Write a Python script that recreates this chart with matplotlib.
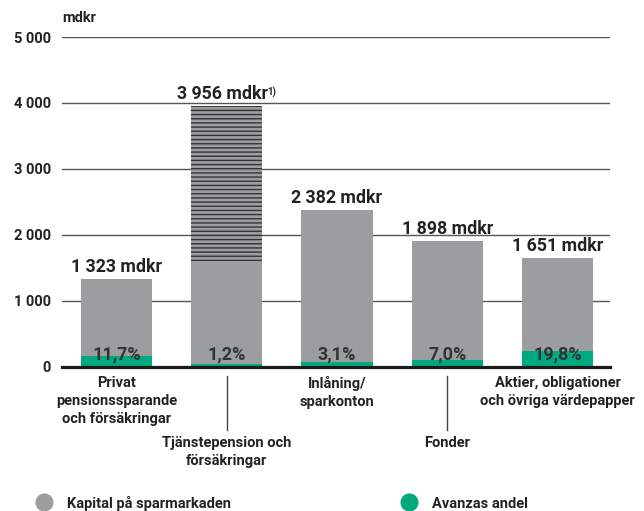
import matplotlib
matplotlib.use("Agg")
import matplotlib.pyplot as plt
from matplotlib.lines import Line2D

plt.rcParams['font.family'] = ['Roboto', 'DejaVu Sans']
plt.rcParams['font.weight'] = 'bold'
plt.rcParams['hatch.linewidth'] = 1.0

categories = ["Privat\npensionssparande\noch försäkringar",
              "Tjänstepension och\nförsäkringar",
              "Inlåning/\nsparkonton",
              "Fonder",
              "Aktier, obligationer\noch övriga värdepapper"]
totals = [1323, 3956, 2382, 1898, 1651]
solid_part = [1323, 1600, 2382, 1898, 1651]   # lower solid portion; remainder of bar 2 is hatched
avanza_values = [160, 45, 73, 100, 235]        # green segment heights
value_labels = ["1 323 mdkr", "3 956 mdkr", "2 382 mdkr", "1 898 mdkr", "1 651 mdkr"]
footnotes = ["", "1)", "", "", ""]
pct_labels = ["11,7%", "1,2%", "3,1%", "7,0%", "19,8%"]
yticks = [0, 1000, 2000, 3000, 4000, 5000]
ytick_labels = ["0", "1 000", "2 000", "3 000", "4 000", "5 000"]
label_row = [0, 1, 0, 1, 0]

GRAY = "#9b9d9f"
GREEN = "#00aa7e"
TXT = "#222222"

fig = plt.figure(figsize=(6.44, 5.11), dpi=100)
ax = fig.add_axes([62/644, 1 - 366.5/511, (610-62)/644, (366.5-37)/511])

x = list(range(len(totals)))
w = 0.645
ax.bar(x, solid_part, width=w, color=GRAY, zorder=2)
hatched = [t - s for t, s in zip(totals, solid_part)]
ax.bar(x, hatched, bottom=solid_part, width=w, color=GRAY, edgecolor="#333333",
       hatch='----', linewidth=0, zorder=2)
ax.bar(x, avanza_values, width=w, color=GREEN, zorder=3)

ax.set_xlim(-0.494, 4.476)
ax.set_ylim(0, 5000)
ax.set_yticks(yticks)
ax.set_yticklabels(ytick_labels, fontsize=10.5, fontweight='bold', color=TXT)
ax.tick_params(axis='y', length=0, pad=8)
ax.set_xticks([])
for s in ax.spines.values():
    s.set_visible(False)
for yv in yticks[1:]:
    ax.axhline(yv, color="#555555", lw=1.0, zorder=1)
ax.axhline(0, color="#1a1a1a", lw=2.3, zorder=4, clip_on=False)

for xi, t, lab, fn in zip(x, totals, value_labels, footnotes):
    shift = -3 if fn else 0
    main = ax.annotate(lab, (xi, t), xytext=(shift, 5), textcoords='offset points',
                       ha='center', va='baseline', fontsize=12.8, fontweight='bold', color=TXT)
    if fn:
        ax.annotate(fn, xy=(1, 1), xycoords=main, xytext=(-0.5, -1.5), textcoords='offset points',
                    ha='left', va='top', fontsize=7, fontweight='bold', color=TXT)

for xi, lab in zip(x, pct_labels):
    ax.annotate(lab, (xi, 0), xytext=(0, 5), textcoords='offset points',
                ha='center', va='baseline', fontsize=13, fontweight='bold', color="#333333", zorder=5)

xt = ax.get_xaxis_transform()
for xi, lab, row in zip(x, categories, label_row):
    off = -6.5 if row == 0 else -50
    ax.annotate(lab, (xi, 0), xycoords=xt, xytext=(0, off), textcoords='offset points',
                ha='center', va='top', fontsize=10.5, fontweight='bold', color=TXT,
                linespacing=1.4)
    if row == 1:
        ax.plot([xi, xi], [-9.5/329.5, -63.5/329.5], transform=xt, color="#444444",
                lw=1.0, clip_on=False)

fig.text(62/644, 1 - 18/511, "mdkr", fontsize=10.5, fontweight='bold', color=TXT,
         ha='left', va='center')

handles = [Line2D([], [], marker='o', linestyle='', markersize=12, color=GRAY),
           Line2D([], [], marker='o', linestyle='', markersize=12, color=GREEN)]
leg = fig.legend(handles, ["Kapital på sparmarkaden", "Avanzas andel"], ncol=2,
                 loc='center left', bbox_to_anchor=(35/644, 1 - 503/511), frameon=False,
                 prop=dict(size=10.5, weight='bold'), columnspacing=11.6,
                 handletextpad=1.0, handlelength=1.2, borderaxespad=0, borderpad=0)
for t in leg.get_texts():
    t.set_color(TXT)

fig.savefig("out.png", dpi=100)
